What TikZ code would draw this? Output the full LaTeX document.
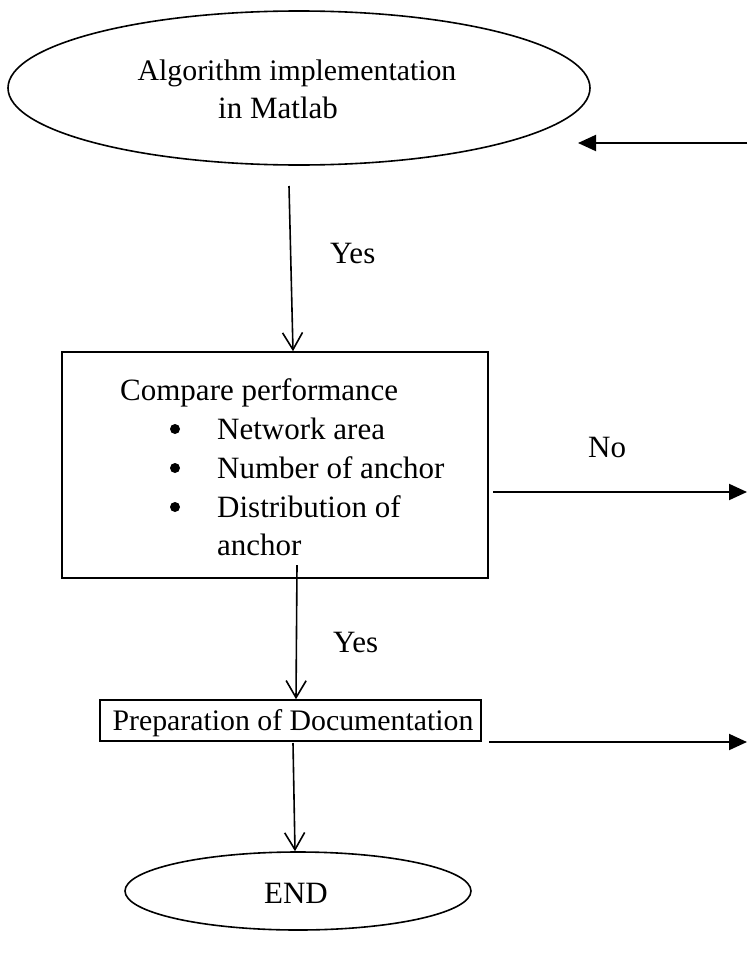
\documentclass[tikz,border=0pt]{standalone}
\usepackage{fontspec}
\setmainfont{Liberation Serif}
\usetikzlibrary{arrows.meta,shapes.geometric}
\begin{document}
\begin{tikzpicture}[x=1pt,y=-1pt,
  every node/.style={font=\fontsize{31}{37}\selectfont, inner sep=0pt},
  small/.style={font=\fontsize{29.8}{36}\selectfont},
  dot/.style={circle, fill=black, minimum size=10pt},
  outline/.style={draw, line width=1.6pt},
  flow/.style={line width=2pt, -{Triangle[length=18pt,width=16pt]}},
  down/.style={line width=1.6pt, -{Straight Barb[length=17pt,width=20pt,line width=1.6pt]}},
  txt/.style={anchor=base west},
  ctxt/.style={anchor=base}]
\useasboundingbox (0,0) rectangle (747,977);

% shapes
\node[ellipse, outline, minimum width=582pt, minimum height=154pt] (impl) at (299,88) {};
\node[rectangle, outline, minimum width=426pt, minimum height=226pt] (compare) at (275,465) {};
\node[rectangle, outline, minimum width=381pt, minimum height=41pt] (prep) at (290.5,720.5) {};
\node[ellipse, outline, minimum width=346pt, minimum height=78pt] (fin) at (298,891) {};

% texts
\node[ctxt, small] (t1) at (297,80) {Algorithm implementation};
\node[txt] (t2) at (218,118) {in Matlab};
\node[txt] (t3) at (120,400) {Compare performance};
\node[txt] (i1) at (217,439) {Network area};
\node[txt] (i2) at (217,478) {Number of anchor};
\node[txt] (i3) at (217,517) {Distribution of};
\node[txt] (i4) at (217,555) {anchor};
\node[ctxt, small] (t4) at (293,730) {Preparation of Documentation};
\node[ctxt] (t5) at (296,903) {END};

% list bullets
\node[dot] (b1) at (175,429) {};
\node[dot] (b2) at (175,468) {};
\node[dot] (b3) at (175,507) {};

% connector labels
\node[txt] (yes1) at (330,263) {Yes};
\node[txt] (no) at (588,457) {No};
\node[txt] (yes2) at (333,652) {Yes};

% connector ends
\coordinate (s1) at (289,186);
\coordinate (rin) at (747,143);
\coordinate (rtip) at (578,143);
\coordinate (s2) at (493,492);
\coordinate (rno) at (747,492);
\coordinate (s3) at (297,565);
\coordinate (s4) at (489,742);
\coordinate (rdoc) at (747,742);
\coordinate (s5) at (293,743);

% connectors
\draw[down] (s1) -- (293,0 |- compare.north);
\draw[flow] (rin) -- (rtip);
\draw[flow] (s2) -- (rno);
\draw[down] (s3) -- (296,0 |- prep.north);
\draw[flow] (s4) -- (rdoc);
\draw[down] (s5) -- (295,0 |- fin.north);
\end{tikzpicture}
\end{document}
